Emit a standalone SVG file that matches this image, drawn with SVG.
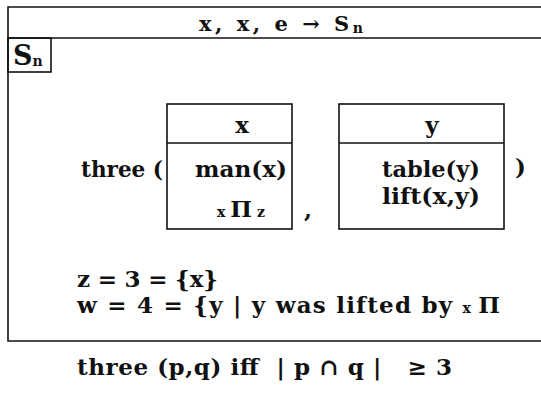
<svg xmlns="http://www.w3.org/2000/svg" width="541" height="394" viewBox="0 0 541 394">
<style>
.t{font-family:"DejaVu Serif","Liberation Serif",serif;font-size:23px;font-weight:bold;fill:#111}
.h{font-size:21px}
.s{font-size:14px}
.ln{stroke:#111;stroke-width:1.6;fill:none}
</style>
<rect width="541" height="394" fill="#fff"/>
<g id="frame">
<path class="ln" d="M541,7 H8 V341 H541" stroke-width="2"/>
<line class="ln" x1="8" y1="38" x2="541" y2="38" stroke="#555"/>
<text class="t h" x="199" y="31" textLength="164" lengthAdjust="spacing" xml:space="preserve">x, x, e → S<tspan class="s" dy="2">n</tspan></text>
</g>
<g id="sn-label">
<rect class="ln" x="8" y="38" width="43" height="34"/>
<text class="t" x="13" y="65" style="font-size:27px">S<tspan class="s" dy="1">n</tspan></text>
</g>
<g id="three-expr">
<text class="t" x="81" y="177" textLength="82" lengthAdjust="spacingAndGlyphs" xml:space="preserve">three (</text>
<text class="t" x="304" y="218">,</text>
<text class="t" x="515" y="175">)</text>
</g>
<g id="box-x">
<rect class="ln" x="167" y="104" width="125" height="125"/>
<line class="ln" x1="167" y1="143" x2="292" y2="143"/>
<text class="t" x="242" y="133" text-anchor="middle">x</text>
<text class="t" x="195" y="177" textLength="92" lengthAdjust="spacingAndGlyphs">man(x)</text>
<text class="t" x="217" y="217" textLength="48" lengthAdjust="spacing"><tspan class="s">x </tspan>Π<tspan class="s"> z</tspan></text>
</g>
<g id="box-y">
<rect class="ln" x="339" y="104" width="165" height="125"/>
<line class="ln" x1="339" y1="143" x2="504" y2="143"/>
<text class="t" x="432" y="133" text-anchor="middle">y</text>
<text class="t" x="382" y="177" textLength="98" lengthAdjust="spacingAndGlyphs">table(y)</text>
<text class="t" x="382" y="204" textLength="98" lengthAdjust="spacingAndGlyphs">lift(x,y)</text>
</g>
<g id="definitions">
<text class="t" x="77" y="287" textLength="141" lengthAdjust="spacing" xml:space="preserve">z = 3 = {x}</text>
<text class="t" x="77" y="313" textLength="423" lengthAdjust="spacing" xml:space="preserve">w = 4 = {y | y was lifted by <tspan class="s">x </tspan>Π</text>
</g>
<g id="connectors"></g>
<g id="footnote">
<text class="t" x="77" y="375" textLength="375" lengthAdjust="spacing" xml:space="preserve">three (p,q) iff  | p ∩ q |   ≥ 3</text>
</g>
</svg>
